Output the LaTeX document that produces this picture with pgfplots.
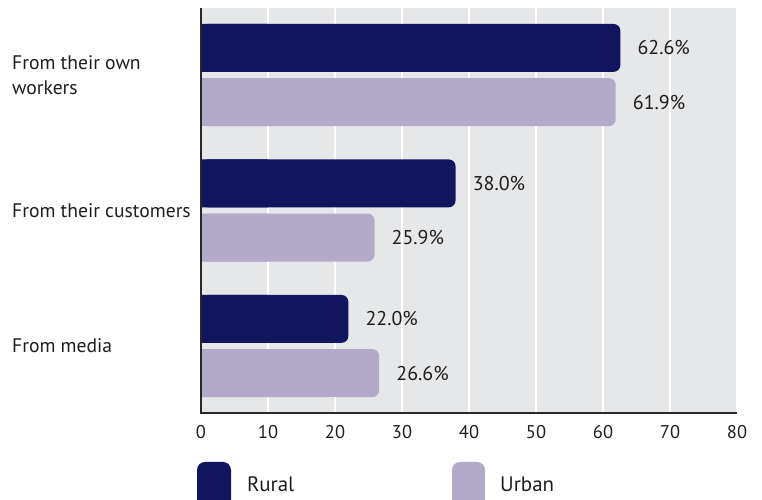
\documentclass[border=0pt]{standalone}
\usepackage{pgfplots}
\pgfplotsset{compat=1.18}
\usepackage{pgfplotstable}
\usepackage{fontspec}
\setmainfont{PT Sans}
\definecolor{rural}{RGB}{16,21,94}
\definecolor{urban}{RGB}{179,170,202}
\definecolor{bg}{RGB}{230,231,233}
\definecolor{axdark}{RGB}{40,40,40}
\definecolor{txt}{RGB}{30,30,30}

\pgfplotstableread{
pos rural urban
0 62.6 61.9
1 38.0 25.9
2 22.0 26.6
}\data

\begin{document}
\begin{tikzpicture}[x=1bp,y=1bp]
\useasboundingbox (0,0) rectangle (762,500);
\clip (0,0) rectangle (762,500);
\begin{axis}[
 at={(201bp,87bp)}, anchor=south west,
 scale only axis, width=536bp, height=405bp,
 xmin=0, xmax=80, ymin=-0.4945, ymax=2.4945, y dir=reverse,
 axis line style={draw=none},
 axis background/.style={fill=bg},
 xtick={0,10,...,80}, ytick={0,1,2},
 yticklabels={{From their own\\workers},{From their customers},{From media}},
 major tick length=0pt,
 xmajorgrids, major grid style={white, line width=2.2bp},
 xticklabel style={font=\fontsize{18.5}{21}\selectfont, text=txt, anchor=base, yshift=-25bp},
 yticklabel style={font=\fontsize{19.7}{25}\selectfont, text=txt, align=left, anchor=west, xshift=-189bp, inner sep=0pt},
 /pgf/number format/assume math mode=true,
 xbar, bar width=48bp, bar shift=0pt,
 point meta=x,
 every node near coord/.append style={anchor=west, inner sep=0pt, xshift=17bp, font=\fontsize{20}{22}\selectfont, text=txt},
 nodes near coords align={horizontal},
 clip=false,
]
\addplot[fill=rural, draw=none] table[x expr={min(\thisrow{rural},10)}, y expr=\thisrow{pos}-0.2]{\data};
\addplot[fill=rural, draw=none, rounded corners=7bp,
  nodes near coords={\pgfmathprintnumber[fixed,fixed zerofill,precision=1]{\pgfplotspointmeta}\%}]
  table[x=rural, y expr=\thisrow{pos}-0.2]{\data};
\addplot[fill=urban, draw=none] table[x expr={min(\thisrow{urban},10)}, y expr=\thisrow{pos}+0.2]{\data};
\addplot[fill=urban, draw=none, rounded corners=7bp,
  nodes near coords={\pgfmathprintnumber[fixed,fixed zerofill,precision=1]{\pgfplotspointmeta}\%}]
  table[x=urban, y expr=\thisrow{pos}+0.2]{\data};
\draw[axdark, line width=2.2bp] (axis cs:0,-0.4945) -- (axis cs:0,2.4945) -- (axis cs:80,2.4945);
\end{axis}
% legend
\fill[rural, rounded corners=8bp] (197,-10) rectangle (231,38);
\node[anchor=base west, inner sep=0pt, text=txt, font=\fontsize{21}{24}\selectfont] at (247,8) {Rural};
\fill[urban, rounded corners=8bp] (452,-10) rectangle (485,38);
\node[anchor=base west, inner sep=0pt, text=txt, font=\fontsize{21}{24}\selectfont] at (500,8) {Urban};
\end{tikzpicture}
\end{document}
